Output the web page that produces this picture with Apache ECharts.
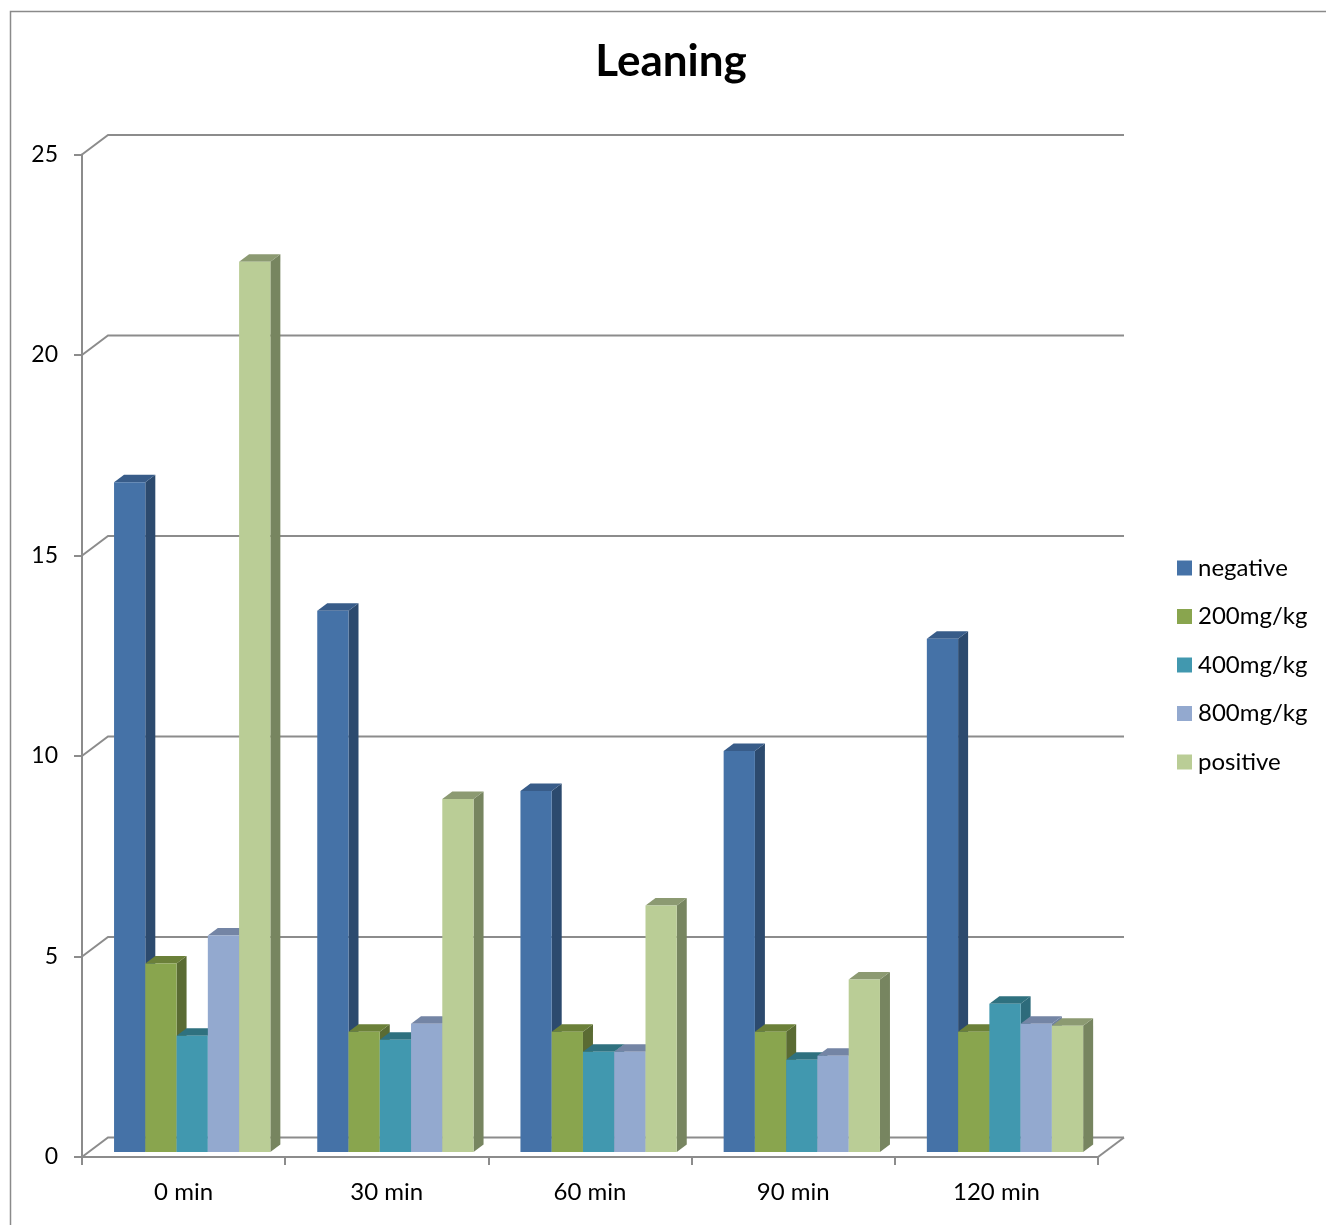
<!DOCTYPE html>
<html>
<head>
<meta charset="utf-8">
<title>Leaning</title>
<script src="https://cdn.jsdelivr.net/npm/echarts@6/dist/echarts.min.js"></script>
<style>
  html, body { margin: 0; padding: 0; background: #ffffff; }
  #chart { width: 1326px; height: 1225px; }
</style>
</head>
<body>
<div id="chart"></div>
<script>
// Time points and group values
const categories = ['0 min', '30 min', '60 min', '90 min', '120 min'];
const seriesNames = ['negative', '200mg/kg', '400mg/kg', '800mg/kg', 'positive'];
const negative = [16.7, 13.5, 9.0, 10.0, 12.8];
const mg200 = [4.7, 3.0, 3.0, 3.0, 3.0];
const mg400 = [2.9, 2.8, 2.5, 2.3, 3.7];
const mg800 = [5.4, 3.2, 2.5, 2.4, 3.2];
const positive = [22.2, 8.8, 6.15, 4.3, 3.15];
const yTicks = [0, 5, 10, 15, 20, 25];

const seriesValues = [negative, mg200, mg400, mg800, positive];

// Face colours for each group: front, side, top
const palette = [
  { front: '#4572A7', side: '#2C4A6E', top: '#385C89' },
  { front: '#89A54E', side: '#5A6B33', top: '#6B8039' },
  { front: '#4198AF', side: '#2D6B7B', top: '#2F717F' },
  { front: '#93A9CF', side: '#6F809E', top: '#7485A5' },
  { front: '#BACD96', side: '#778560', top: '#8C9A72' }
];

// Pseudo-3D projection: offsets from the front plane (the axes) to the
// bar plane and to the back wall, plus the bar depth.
const BAR_PLANE = { dx: 8.6, dy: -5 };
const BACK_WALL = { dx: 26, dy: -19.5 };
const BAR_DEPTH = { dx: 10, dy: -7.5 };
const GAP = 1.5; // gap width relative to one bar
const GRID_COLOR = '#8C8C8C';
const FONT = 'Lato, "Open Sans", sans-serif';

const chart = echarts.init(document.getElementById('chart'), null, { renderer: 'canvas' });

function wallRenderer(params, api) {
  const v = api.value(1);
  const bw = api.size([1, 0])[0];
  const c = api.coord([0, v]);
  const x0 = c[0] - bw / 2;
  const y = c[1];
  const xEnd = x0 + bw * categories.length;
  const style = { stroke: GRID_COLOR, lineWidth: 2, fill: null };
  const children = [{
    type: 'polyline',
    shape: { points: [[x0, y], [x0 + BACK_WALL.dx, y + BACK_WALL.dy], [xEnd + BACK_WALL.dx, y + BACK_WALL.dy]] },
    style: style
  }];
  if (v === 0) {
    children.push({
      type: 'line',
      shape: { x1: xEnd, y1: y, x2: xEnd + BACK_WALL.dx, y2: y + BACK_WALL.dy },
      style: style
    });
  }
  return { type: 'group', children: children };
}

function barRenderer(sIdx) {
  return function (params, api) {
    const ci = api.value(0);
    const v = api.value(1);
    const bw = api.size([1, 0])[0];
    const barW = bw / (seriesNames.length + GAP);
    const base = api.coord([ci, 0]);
    const head = api.coord([ci, v]);
    const x0 = base[0] - bw / 2 + barW * GAP / 2 + sIdx * barW + BAR_PLANE.dx;
    const x1 = x0 + barW;
    const yb = base[1] + BAR_PLANE.dy;
    const yt = head[1] + BAR_PLANE.dy;
    const col = palette[sIdx];
    const dx = BAR_DEPTH.dx, dy = BAR_DEPTH.dy;
    return {
      type: 'group',
      children: [
        {
          type: 'polygon',
          shape: { points: [[x1, yt], [x1 + dx, yt + dy], [x1 + dx, yb + dy], [x1, yb]] },
          style: { fill: col.side }
        },
        {
          type: 'polygon',
          shape: { points: [[x0, yt], [x0 + dx, yt + dy], [x1 + dx, yt + dy], [x1, yt]] },
          style: { fill: col.top }
        },
        {
          type: 'rect',
          shape: { x: x0, y: yt, width: barW, height: yb - yt },
          style: { fill: col.front }
        }
      ]
    };
  };
}

const series = [{
  name: 'wall',
  type: 'custom',
  renderItem: wallRenderer,
  data: yTicks.map(t => [0, t]),
  encode: { x: 0, y: 1 },
  silent: true,
  z: 1
}];

seriesNames.forEach((name, i) => {
  series.push({
    name: name,
    type: 'custom',
    renderItem: barRenderer(i),
    data: seriesValues[i].map((v, ci) => [ci, v]),
    encode: { x: 0, y: 1 },
    itemStyle: { color: palette[i].front },
    z: 2
  });
});

const option = {
  animation: false,
  backgroundColor: '#ffffff',
  title: {
    text: 'Leaning',
    left: 666,
    textAlign: 'center',
    top: 35,
    textStyle: { fontFamily: FONT, fontWeight: 'bold', fontSize: 44, color: '#000000' }
  },
  legend: {
    orient: 'vertical',
    left: 1177,
    top: 556,
    padding: 0,
    itemGap: 24.5,
    itemWidth: 15,
    itemHeight: 15,
    icon: 'rect',
    data: seriesNames.map((n, i) => ({ name: n, itemStyle: { color: palette[i].front } })),
    textStyle: { fontFamily: FONT, fontSize: 24, lineHeight: 24, color: '#000000', padding: [0, 0, 0, 1] }
  },
  grid: {
    left: 82,
    top: 154.5,
    width: 1016,
    height: 1002.5
  },
  xAxis: {
    type: 'category',
    data: categories,
    boundaryGap: true,
    axisLine: { show: true, lineStyle: { color: GRID_COLOR, width: 2 } },
    axisTick: { show: true, length: 8, lineStyle: { color: GRID_COLOR, width: 2 } },
    axisLabel: { margin: 23, fontFamily: FONT, fontSize: 24, color: '#000000' },
    splitLine: { show: false }
  },
  yAxis: {
    type: 'value',
    min: 0,
    max: 25,
    interval: 5,
    axisLine: { show: true, lineStyle: { color: GRID_COLOR, width: 2 } },
    axisTick: { show: true, length: 8, lineStyle: { color: GRID_COLOR, width: 2 } },
    axisLabel: { margin: 24, fontFamily: FONT, fontSize: 23, color: '#000000', padding: [9, 0, 0, 0] },
    splitLine: { show: false }
  },
  graphic: [{
    type: 'rect',
    shape: { x: 10.5, y: 11.5, width: 1400, height: 1400 },
    style: { fill: null, stroke: '#8A8A8A', lineWidth: 1.5 },
    silent: true,
    z: -1
  }],
  series: series
};

chart.setOption(option);
</script>
</body>
</html>
